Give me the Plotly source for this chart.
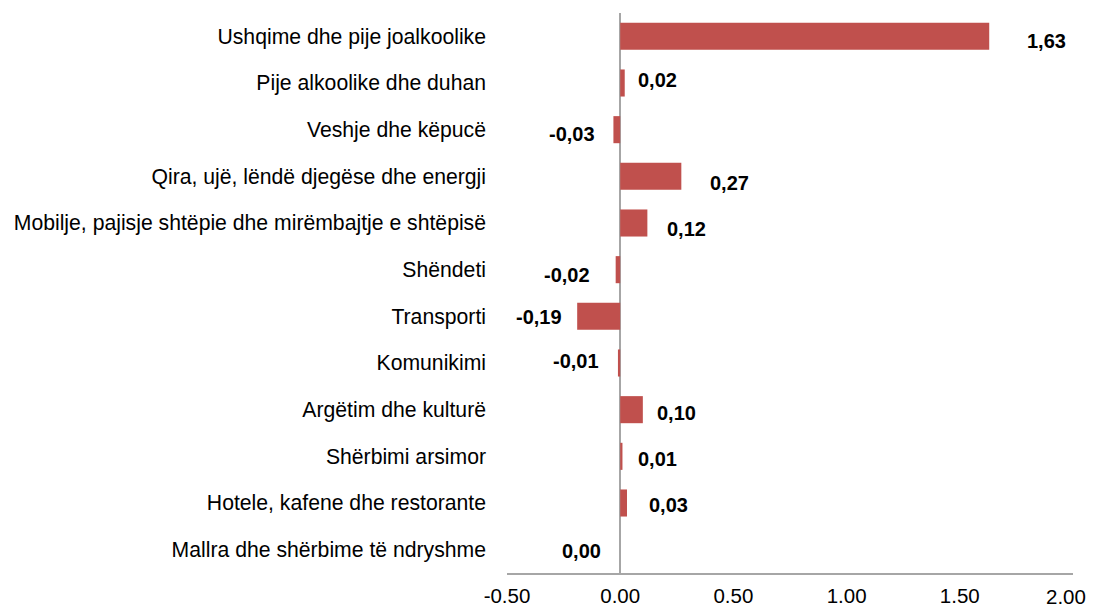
import plotly.graph_objects as go

categories = [
    "Ushqime dhe pije joalkoolike",
    "Pije alkoolike dhe duhan",
    "Veshje dhe këpucë",
    "Qira, ujë, lëndë djegëse dhe energji",
    "Mobilje, pajisje shtëpie dhe mirëmbajtje e shtëpisë",
    "Shëndeti",
    "Transporti",
    "Komunikimi",
    "Argëtim dhe kulturë",
    "Shërbimi arsimor",
    "Hotele, kafene dhe restorante",
    "Mallra dhe shërbime të ndryshme",
]
values = [1.63, 0.02, -0.03, 0.27, 0.12, -0.02, -0.19, -0.01, 0.10, 0.01, 0.03, 0.00]
value_labels = ["1,63", "0,02", "-0,03", "0,27", "0,12", "-0,02", "-0,19", "-0,01", "0,10", "0,01", "0,03", "0,00"]
tick_vals = [-0.5, 0.0, 0.5, 1.0, 1.5, 2.0]
tick_text = ["-0.50", "0.00", "0.50", "1.00", "1.50", "2.00"]

# label placement styling (pixel gaps from bar end, vertical shifts)
label_gap = [36, 11, 16, 27, 18, 24, 13, 17, 12, 14, 20, 17]
label_dy = [-5, 3, -4, -7, -6, -5, -1, 2, -3, -3, -2, -1]

FONT = "Liberation Sans, Arial, sans-serif"

fig = go.Figure()
fig.add_trace(go.Bar(
    x=values, y=categories, orientation="h",
    marker=dict(color="#C0504D", line=dict(width=0)),
    hoverinfo="skip",
))

annotations = []
for i, (v, lab) in enumerate(zip(values, value_labels)):
    neg = lab.startswith("-") or (v == 0)
    annotations.append(dict(
        x=v, y=categories[i], xref="x", yref="y",
        text="<b>" + lab + "</b>", showarrow=False,
        xanchor="right" if neg else "left",
        xshift=-label_gap[i] if neg else label_gap[i],
        yshift=label_dy[i],
        font=dict(family=FONT, size=20, color="#000000"),
    ))

# last tick label drawn as annotation, right-aligned so it stays inside the visible page
shown_ticks = tick_text[:-1] + [""]
annotations.append(dict(
    x=tick_vals[-1], y=0, xref="x", yref="paper",
    text=tick_text[-1], showarrow=False,
    xanchor="right", yanchor="middle", xshift=15, yshift=-23,
    font=dict(family=FONT, size=20.5, color="#000000"),
))

# page body has an 8px margin; figure sized/margined to compensate
fig.update_layout(
    width=1089, height=600,
    margin=dict(l=499, r=24, t=5, b=35),
    paper_bgcolor="white", plot_bgcolor="white",
    showlegend=False,
    bargap=0.42,
    annotations=annotations,
    font=dict(family=FONT, size=21.2, color="#000000"),
)
fig.update_xaxes(
    range=[-0.5, 2.0], tickvals=tick_vals, ticktext=shown_ticks,
    showgrid=False, zeroline=True, zerolinecolor="#A6A6A6", zerolinewidth=2,
    showline=True, linecolor="#A6A6A6", linewidth=1.5,
    ticks="", ticklabelstandoff=4, automargin=False, ticklabeloverflow="allow",
    tickfont=dict(family=FONT, size=20.5, color="#000000"),
)
fig.update_yaxes(
    autorange="reversed", showgrid=False, showline=False, zeroline=False,
    ticks="", ticklabelstandoff=20, automargin=False,
    tickfont=dict(family=FONT, size=21.2, color="#000000"),
)
fig.write_html("out.html")
